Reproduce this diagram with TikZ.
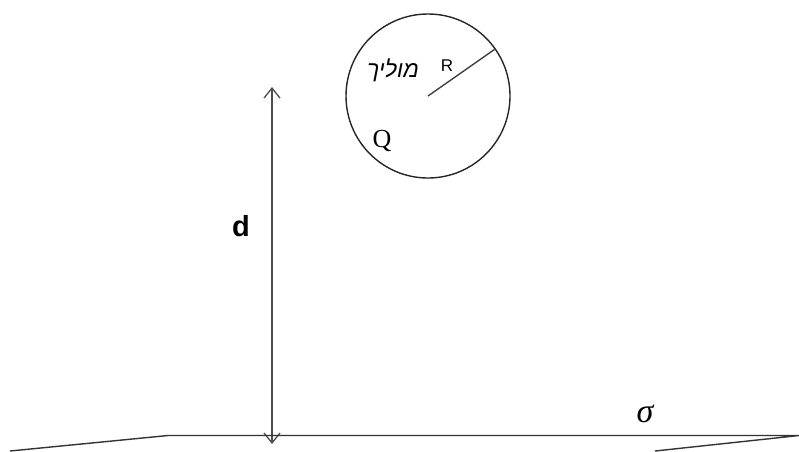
\documentclass[tikz,border=0pt]{standalone}
\usepackage{fontspec}
\setmainfont{Liberation Serif}
\newfontfamily\hebfont[Script=Hebrew]{Liberation Sans}
\newfontfamily\lsans{Liberation Sans}
\TeXXeTstate=1
\usetikzlibrary{arrows.meta}
\begin{document}
\begin{tikzpicture}[x=1pt,y=-1pt,
  edge/.style={draw=black!80,line width=1.4pt},
  dimline/.style={draw=black!70,line width=1.3pt,{Straight Barb[length=10pt,width=16pt,line width=1.3pt]}-{Straight Barb[length=10pt,width=16pt,line width=1.3pt]}},
  lbl/.style={inner sep=0pt,text=black}]
\useasboundingbox (0,0) rectangle (799,451);
% sphere
\node[circle,draw=black!85,line width=1.4pt,minimum size=164pt,inner sep=0pt] (ball) at (428,96) {};
\draw[edge,draw=black!75] (ball.center) -- (ball.35.5);
\node[lbl,font=\hebfont\itshape\fontsize{23}{23}\selectfont] (cond) at (393,70) {\beginR מוליך\endR};
\node[lbl,font=\lsans\fontsize{17}{17}\selectfont] (rlab) at (447,66) {R};
\node[lbl,font=\fontsize{26}{26}\selectfont] (qlab) at (382,141) {Q};
% distance arrow
\coordinate (atop) at (272,87);
\coordinate (abot) at (272,444);
\draw[dimline] (atop) -- (abot);
\node[lbl,font=\lsans\bfseries\fontsize{29}{29}\selectfont] (dlab) at (241,226) {d};
% plane
\coordinate (p1) at (10,451);
\coordinate (p2) at (168,435.5);
\coordinate (p3) at (799,435.5);
\coordinate (p4) at (655,451);
\draw[edge,line join=miter] (p1) -- (p2) -- (p3) -- (p4);
\node[lbl,font=\itshape\fontsize{34}{34}\selectfont] (sig) at (645,414) {σ};
\end{tikzpicture}
\end{document}
